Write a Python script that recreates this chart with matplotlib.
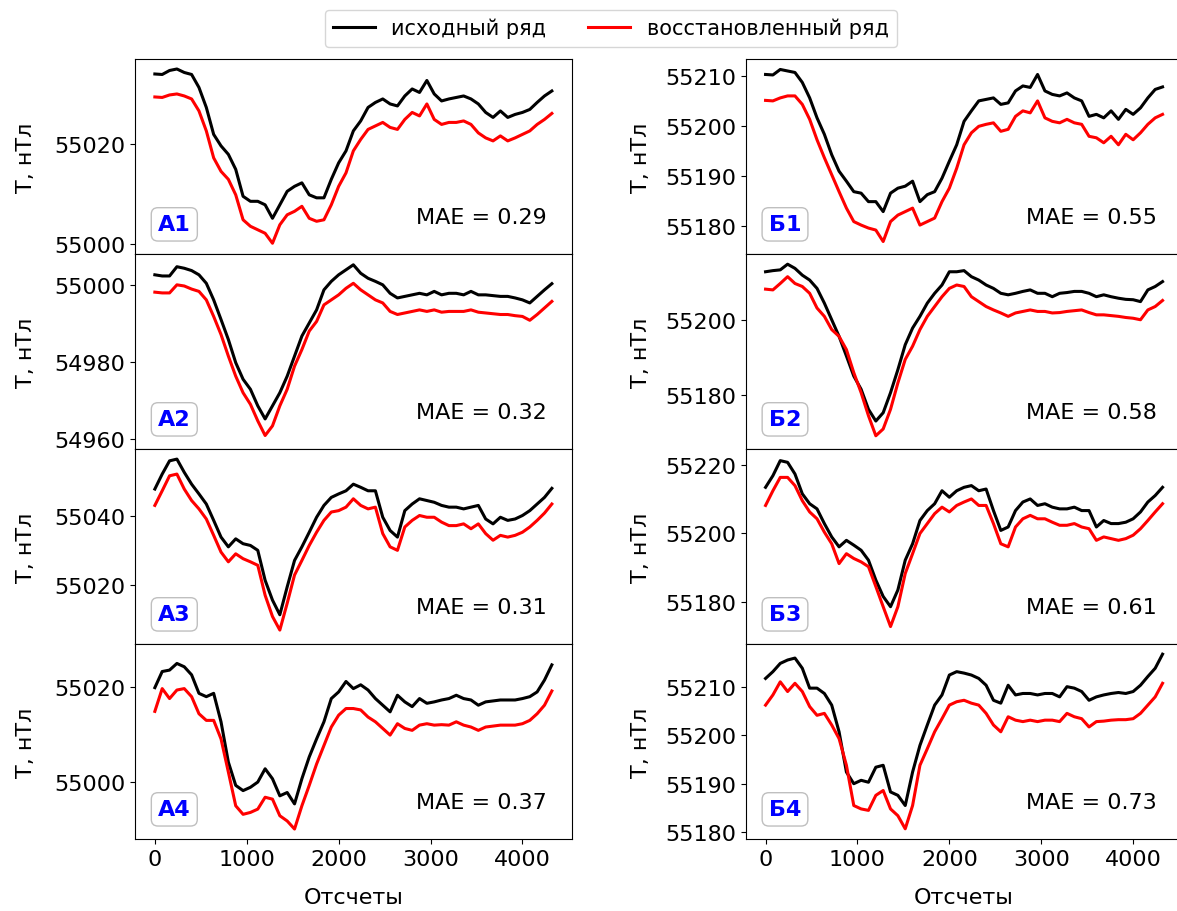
import matplotlib
matplotlib.use("Agg")
import matplotlib.pyplot as plt
from matplotlib.lines import Line2D

# ---------------- data ----------------
SAMPLES = [0, 80, 160, 240, 320, 400, 480, 560, 640, 720, 800, 880, 960, 1040,
           1120, 1200, 1280, 1360, 1440, 1520, 1600, 1680, 1760, 1840, 1920,
           2000, 2080, 2160, 2240, 2320, 2400, 2480, 2560, 2640, 2720, 2800,
           2880, 2960, 3040, 3120, 3200, 3280, 3360, 3440, 3520, 3600, 3680,
           3760, 3840, 3920, 4000, 4080, 4160, 4240, 4320]

A1_src = [55034.1, 55034.0, 55034.8, 55035.1, 55034.4, 55034.0, 55031.4, 55027.4, 55022.0, 55019.7,
          55018.0, 55015.0, 55009.6, 55008.6, 55008.6, 55007.9, 55005.2, 55007.9, 55010.6, 55011.6,
          55012.3, 55009.9, 55009.3, 55009.3, 55013.0, 55016.3, 55018.7, 55022.7, 55024.7, 55027.4,
          55028.4, 55029.1, 55028.1, 55027.7, 55029.7, 55031.1, 55030.4, 55032.8, 55030.1, 55028.7,
          55029.1, 55029.4, 55029.7, 55029.1, 55028.1, 55026.4, 55025.4, 55026.7, 55025.4, 55026.0,
          55026.4, 55027.0, 55028.4, 55029.7, 55030.7]
A1_rec = [55029.5, 55029.4, 55029.9, 55030.1, 55029.7, 55029.1, 55026.7, 55022.7, 55017.3, 55014.6,
          55013.0, 55009.9, 55004.9, 55003.6, 55002.9, 55002.2, 55000.2, 55003.9, 55005.9, 55006.6,
          55007.6, 55005.2, 55004.6, 55004.9, 55007.9, 55011.6, 55014.3, 55018.7, 55021.0, 55023.0,
          55023.7, 55024.4, 55023.4, 55023.0, 55025.0, 55026.4, 55025.7, 55028.1, 55025.0, 55024.0,
          55024.4, 55024.4, 55024.7, 55024.0, 55022.3, 55021.3, 55020.7, 55021.7, 55020.7, 55021.3,
          55022.0, 55022.7, 55024.0, 55025.0, 55026.2]

A2_src = [55002.6, 55002.3, 55002.3, 55004.7, 55004.3, 55003.7, 55002.6, 55000.4, 54996.1, 54991.0,
          54985.8, 54979.8, 54975.5, 54972.9, 54968.6, 54965.2, 54968.6, 54972.0, 54976.3, 54981.5,
          54986.7, 54990.1, 54993.5, 54998.7, 55000.9, 55002.6, 55003.9, 55005.2, 55003.0, 55001.7,
          55000.9, 55000.0, 54997.8, 54996.6, 54997.0, 54997.4, 54997.8, 54997.4, 54998.3, 54997.4,
          54997.8, 54997.8, 54997.4, 54998.3, 54997.4, 54997.4, 54997.2, 54997.0, 54997.0, 54996.6,
          54996.1, 54995.3, 54997.0, 54998.7, 55000.3]
A2_rec = [54998.1, 54997.9, 54997.9, 55000.0, 54999.7, 54998.9, 54998.3, 54996.1, 54991.8, 54987.1,
          54981.5, 54976.3, 54972.0, 54969.0, 54964.7, 54960.9, 54963.4, 54968.6, 54972.9, 54978.9,
          54983.2, 54988.0, 54990.5, 54994.8, 54996.1, 54997.4, 54999.1, 55000.4, 54998.7, 54997.4,
          54996.1, 54995.3, 54993.1, 54992.3, 54992.7, 54993.1, 54993.5, 54993.1, 54993.5, 54992.9,
          54993.1, 54993.1, 54993.1, 54993.5, 54992.9, 54992.7, 54992.5, 54992.3, 54992.3, 54992.0,
          54991.8, 54990.8, 54992.3, 54994.0, 54995.7]

A3_src = [55047.6, 55051.9, 55055.7, 55056.2, 55052.4, 55049.0, 55046.2, 55043.3, 55038.6, 55033.8,
          55031.0, 55033.3, 55031.9, 55031.4, 55030.0, 55021.4, 55015.7, 55011.5, 55019.5, 55027.1,
          55031.0, 55035.2, 55039.5, 55042.9, 55045.2, 55046.2, 55047.1, 55049.0, 55048.1, 55047.1,
          55047.1, 55039.5, 55035.7, 55033.8, 55041.4, 55043.3, 55044.8, 55044.3, 55043.8, 55042.9,
          55042.4, 55042.4, 55041.9, 55042.4, 55042.9, 55039.0, 55037.6, 55039.5, 55038.6, 55039.0,
          55040.0, 55041.4, 55043.3, 55045.2, 55047.8]
A3_rec = [55042.9, 55047.1, 55051.4, 55051.9, 55047.6, 55044.3, 55041.9, 55039.0, 55034.3, 55029.5,
          55026.7, 55029.0, 55027.6, 55026.7, 55025.7, 55017.1, 55011.0, 55007.1, 55014.8, 55022.9,
          55027.1, 55031.4, 55035.2, 55038.6, 55041.0, 55041.4, 55042.4, 55044.8, 55042.9, 55041.9,
          55042.4, 55034.8, 55031.0, 55030.0, 55036.7, 55038.6, 55040.0, 55039.5, 55039.5, 55038.1,
          55037.1, 55037.1, 55037.6, 55036.2, 55037.6, 55034.8, 55032.9, 55034.3, 55033.8, 55034.3,
          55035.2, 55036.7, 55038.6, 55040.7, 55043.3]

A4_src = [55019.8, 55023.2, 55023.5, 55024.9, 55024.2, 55022.5, 55018.6, 55017.9, 55018.6, 55012.6,
          55004.1, 54999.2, 54998.1, 54998.8, 54999.9, 55002.7, 55000.6, 54997.0, 54997.7, 54995.3,
          55000.6, 55005.2, 55009.0, 55012.6, 55017.5, 55018.9, 55021.1, 55019.6, 55020.4, 55019.3,
          55017.5, 55016.1, 55014.7, 55018.2, 55016.8, 55015.8, 55017.5, 55016.5, 55016.8, 55017.2,
          55017.5, 55018.2, 55017.5, 55017.2, 55016.1, 55016.8, 55017.0, 55017.2, 55017.2, 55017.2,
          55017.5, 55017.9, 55018.9, 55021.4, 55024.6]
A4_rec = [55014.8, 55019.6, 55017.5, 55019.3, 55019.6, 55017.9, 55014.3, 55012.9, 55012.9, 55009.0,
          55002.0, 54994.9, 54993.1, 54993.5, 54994.2, 54996.7, 54996.3, 54992.8, 54991.7, 54990.0,
          54994.9, 54999.2, 55003.7, 55007.6, 55011.5, 55014.0, 55015.4, 55015.4, 55015.1, 55013.6,
          55012.6, 55011.2, 55009.8, 55012.2, 55011.2, 55010.8, 55011.9, 55012.2, 55011.9, 55012.0,
          55011.9, 55012.6, 55011.9, 55011.5, 55010.8, 55011.5, 55011.7, 55011.9, 55011.9, 55011.9,
          55012.2, 55012.9, 55014.3, 55016.1, 55019.1]

B1_src = [55210.3, 55210.2, 55211.3, 55211.0, 55210.7, 55208.7, 55205.6, 55201.6, 55198.3, 55194.2,
          55190.9, 55188.9, 55186.8, 55186.5, 55184.8, 55184.8, 55182.8, 55186.5, 55187.5, 55187.9,
          55188.9, 55184.8, 55186.2, 55186.8, 55189.5, 55192.9, 55196.2, 55200.9, 55203.0, 55205.0,
          55205.3, 55205.6, 55204.3, 55204.6, 55207.0, 55208.0, 55207.7, 55210.3, 55207.0, 55206.3,
          55206.0, 55206.6, 55205.6, 55205.0, 55201.9, 55202.3, 55201.6, 55203.0, 55201.3, 55203.3,
          55202.3, 55203.6, 55205.6, 55207.3, 55207.8]
B1_rec = [55205.1, 55205.0, 55205.6, 55206.0, 55206.0, 55204.3, 55201.3, 55197.2, 55193.6, 55190.2,
          55186.8, 55183.5, 55180.8, 55180.1, 55179.5, 55179.1, 55176.8, 55180.8, 55182.1, 55182.8,
          55183.5, 55180.1, 55180.8, 55181.5, 55184.8, 55187.5, 55191.5, 55196.2, 55198.6, 55199.9,
          55200.3, 55200.6, 55198.9, 55199.3, 55201.9, 55203.0, 55202.6, 55205.0, 55201.6, 55200.9,
          55200.6, 55201.3, 55200.6, 55200.3, 55197.9, 55197.6, 55196.6, 55197.9, 55196.2, 55198.3,
          55197.2, 55198.6, 55200.3, 55201.6, 55202.3]

B2_src = [55212.7, 55213.0, 55213.2, 55214.7, 55213.6, 55211.8, 55210.5, 55208.3, 55204.4, 55200.0,
          55195.6, 55190.4, 55185.1, 55181.6, 55176.3, 55173.2, 55175.4, 55180.7, 55186.8, 55193.4,
          55197.8, 55200.9, 55204.4, 55207.0, 55209.2, 55212.7, 55212.7, 55213.0, 55211.4, 55210.5,
          55209.2, 55208.3, 55207.0, 55206.6, 55207.0, 55207.5, 55207.9, 55207.0, 55207.0, 55206.1,
          55207.0, 55207.2, 55207.5, 55207.5, 55207.0, 55206.1, 55206.6, 55206.1, 55205.7, 55205.4,
          55205.3, 55204.8, 55207.9, 55208.8, 55210.1]
B2_rec = [55208.1, 55207.9, 55209.6, 55211.4, 55209.6, 55208.8, 55207.0, 55203.1, 55200.9, 55197.4,
          55195.6, 55192.1, 55186.0, 55180.7, 55174.6, 55169.3, 55171.1, 55176.3, 55183.3, 55189.5,
          55193.0, 55197.4, 55200.9, 55203.5, 55206.1, 55208.3, 55209.2, 55208.8, 55206.1, 55204.8,
          55203.5, 55202.6, 55201.8, 55200.9, 55201.8, 55202.2, 55202.6, 55202.2, 55202.2, 55201.8,
          55201.9, 55202.2, 55202.4, 55202.6, 55201.9, 55201.3, 55201.3, 55201.1, 55200.9, 55200.6,
          55200.4, 55200.0, 55202.6, 55203.5, 55205.1]

B3_src = [55213.4, 55216.8, 55221.2, 55220.7, 55217.3, 55211.5, 55208.6, 55207.1, 55202.8, 55198.9,
          55196.0, 55197.9, 55196.5, 55195.0, 55192.1, 55186.3, 55181.5, 55178.5, 55183.4, 55192.1,
          55196.9, 55203.7, 55206.6, 55208.6, 55212.4, 55210.5, 55212.4, 55213.4, 55213.9, 55212.4,
          55212.9, 55206.6, 55200.8, 55201.8, 55206.6, 55209.1, 55210.0, 55208.1, 55208.6, 55207.6,
          55207.1, 55207.1, 55207.6, 55206.6, 55206.6, 55201.8, 55203.7, 55202.8, 55202.8, 55203.2,
          55204.2, 55206.2, 55209.1, 55211.0, 55213.4]
B3_rec = [55208.1, 55212.4, 55216.3, 55216.3, 55213.9, 55209.5, 55206.2, 55204.2, 55200.3, 55196.9,
          55191.1, 55194.0, 55192.6, 55191.6, 55190.2, 55184.4, 55178.5, 55172.7, 55178.5, 55188.2,
          55194.0, 55199.9, 55202.8, 55205.7, 55207.6, 55206.2, 55208.1, 55209.1, 55210.0, 55208.1,
          55208.1, 55202.8, 55196.9, 55196.0, 55201.8, 55204.2, 55205.2, 55204.2, 55204.2, 55203.2,
          55202.3, 55202.3, 55202.8, 55201.8, 55201.3, 55197.9, 55198.9, 55198.4, 55197.9, 55198.4,
          55199.4, 55201.3, 55203.7, 55206.2, 55208.6]

B4_src = [55211.7, 55213.1, 55214.8, 55215.5, 55215.9, 55213.8, 55209.7, 55209.7, 55208.6, 55206.2,
          55200.7, 55192.4, 55190.0, 55190.7, 55190.3, 55193.4, 55193.8, 55188.3, 55187.6, 55185.5,
          55192.4, 55197.9, 55202.1, 55206.2, 55208.3, 55212.4, 55213.1, 55212.8, 55212.4, 55211.7,
          55210.3, 55207.2, 55206.6, 55210.3, 55208.3, 55208.6, 55208.6, 55208.3, 55208.6, 55208.6,
          55207.9, 55210.0, 55209.7, 55209.0, 55207.2, 55207.9, 55208.3, 55208.6, 55208.8, 55208.6,
          55209.0, 55210.3, 55212.1, 55213.8, 55216.7]
B4_rec = [55206.2, 55208.3, 55211.0, 55209.0, 55210.7, 55209.0, 55205.9, 55204.1, 55204.5, 55202.1,
          55199.3, 55193.8, 55185.5, 55184.8, 55184.5, 55187.6, 55188.6, 55184.8, 55183.4, 55180.7,
          55185.5, 55193.8, 55197.2, 55200.7, 55203.4, 55206.2, 55206.9, 55207.2, 55206.6, 55206.2,
          55204.5, 55202.1, 55200.7, 55203.8, 55203.1, 55202.8, 55203.1, 55202.8, 55203.1, 55203.1,
          55202.8, 55204.5, 55203.8, 55203.4, 55201.7, 55202.8, 55202.9, 55203.1, 55203.2, 55203.2,
          55203.4, 55204.5, 55206.2, 55207.9, 55210.7]

PANEL_NAMES = ["А1", "А2", "А3", "А4", "Б1", "Б2", "Б3", "Б4"]
MAE_VALUES = [0.29, 0.32, 0.31, 0.37, 0.55, 0.58, 0.61, 0.73]
SOURCE = [A1_src, A2_src, A3_src, A4_src, B1_src, B2_src, B3_src, B4_src]
RESTORED = [A1_rec, A2_rec, A3_rec, A4_rec, B1_rec, B2_rec, B3_rec, B4_rec]
Y_TICKS = [[55000, 55020], [54960, 54980, 55000], [55020, 55040], [55000, 55020],
           [55180, 55190, 55200, 55210], [55180, 55200], [55180, 55200, 55220],
           [55180, 55190, 55200, 55210]]
Y_LIMITS = [(54998.05, 55037.1), (54957.4, 55008.0), (55003.1, 55059.1), (54987.9, 55029.0),
            (55174.3, 55213.4), (55165.8, 55217.4), (55167.6, 55224.6), (55178.6, 55218.8)]
X_TICKS = [0, 1000, 2000, 3000, 4000]
LEGEND_LABELS = ["исходный ряд", "восстановленный ряд"]

# ---------------- figure ----------------
W, H = 1177, 912
fig = plt.figure(figsize=(W / 100, H / 100), dpi=100)
FS = 16

col_left_px = [135.0, 745.7]
ax_w_px = 436.7
top_px, row_h_px = 60.0, 195.0

for i in range(8):
    col, row = divmod(i, 4)
    left = col_left_px[col] / W
    bottom = 1 - (top_px + row_h_px * (row + 1)) / H
    ax = fig.add_axes([left, bottom, ax_w_px / W, row_h_px / H])
    ax.plot(SAMPLES, SOURCE[i], color="black", lw=2.2)
    ax.plot(SAMPLES, RESTORED[i], color="red", lw=2.2)
    ax.set_xlim(-216, 4536)
    ax.set_ylim(*Y_LIMITS[i])
    ax.set_yticks(Y_TICKS[i])
    ax.tick_params(labelsize=FS)
    if row < 3:
        ax.set_xticks([])
    else:
        ax.set_xticks(X_TICKS)
        ax.set_xlabel("Отсчеты", fontsize=FS, labelpad=13)
    ax.set_ylabel("Т, нТл", fontsize=FS)
    ax.yaxis.set_label_coords(-0.227 if col == 0 else -0.217, 0.5)
    ax.text(0.09, 0.152, PANEL_NAMES[i], transform=ax.transAxes, ha="center", va="center",
            fontsize=FS, fontweight="bold", color="blue",
            bbox=dict(boxstyle="round,pad=0.3", fc="white", ec="0.75"))
    ax.text(0.942, 0.192, f"MAE = {MAE_VALUES[i]:.2f}", transform=ax.transAxes,
            ha="right", va="center", fontsize=FS)

handles = [Line2D([], [], color="black", lw=2.2), Line2D([], [], color="red", lw=2.2)]
fig.legend(handles, LEGEND_LABELS, loc="center", bbox_to_anchor=(0.519, 0.968), ncol=2,
           fontsize=15, frameon=True)

fig.savefig("out.png", dpi=100)
